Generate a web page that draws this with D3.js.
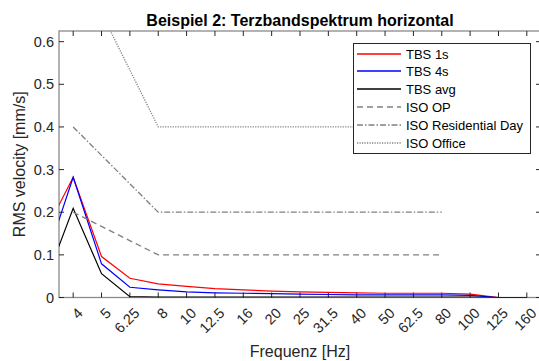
<!DOCTYPE html>
<html>
<head>
<meta charset="utf-8">
<script src="https://cdn.jsdelivr.net/npm/d3@7"></script>
<style>
  body { margin: 0; background: #fff; }
  text { font-family: "Liberation Sans", Arial, sans-serif; fill: #262626; }
</style>
</head>
<body>
<div id="chart"></div>
<script>
// third-octave band centre frequencies (first one sits left of the visible axis)
const freqs = ["3.15", "4", "5", "6.25", "8", "10", "12.5", "16", "20", "25", "31.5", "40", "50", "62.5", "80", "100", "125", "160"];
const tickFreqs = freqs.slice(1);

// measured spectra [mm/s]
const tbs1s = [0.152, 0.282, 0.096, 0.045, 0.032, 0.026, 0.021, 0.018, 0.015, 0.013, 0.012, 0.011, 0.010, 0.010, 0.010, 0.008, 0.000, 0.000];
const tbs4s = [0.082, 0.282, 0.079, 0.024, 0.018, 0.013, 0.011, 0.010, 0.009, 0.008, 0.007, 0.006, 0.006, 0.006, 0.006, 0.005, 0.000, 0.000];
const tbsAvg = [0.033, 0.209, 0.056, 0.002, 0.001, 0.001, 0.001, 0.001, 0.001, 0.001, 0.001, 0.001, 0.001, 0.001, 0.001, 0.001, 0.000, 0.000];

// ISO limit curves (corner points)
const isoFreqs = ["4", "8", "80"];
const isoOP = [0.2, 0.1, 0.1];
const isoResDay = [0.4, 0.2, 0.2];
const isoOffice = [0.8, 0.4, 0.4];

const yTicks = [0, 0.1, 0.2, 0.3, 0.4, 0.5, 0.6];

const W = 539, H = 361;
const pLeft = 59, pRight = 541, pTop = 31, pBottom = 297.5;

const svg = d3.select("#chart").append("svg")
  .attr("width", W)
  .attr("height", H);

const x = d3.scaleLinear().domain([0.5, 17.5]).range([pLeft, pRight]);
const xi = f => x(freqs.indexOf(f));
const y = d3.scaleLinear().domain([0, 0.625]).range([pBottom, pTop]);

svg.append("clipPath").attr("id", "plotClip")
  .append("rect")
  .attr("x", pLeft).attr("y", pTop)
  .attr("width", pRight - pLeft).attr("height", pBottom - pTop);

// axis box
const axisCol = "#8a8a8a";
svg.append("rect")
  .attr("x", pLeft).attr("y", pTop)
  .attr("width", pRight - pLeft).attr("height", pBottom - pTop)
  .attr("fill", "none")
  .attr("stroke", axisCol)
  .attr("stroke-width", 1.3);

// ticks, pointing inward on all four sides
const tickLen = 5;
const tickG = svg.append("g").attr("stroke", "#262626").attr("stroke-width", 1);
tickFreqs.forEach(f => {
  tickG.append("line").attr("x1", xi(f)).attr("x2", xi(f)).attr("y1", pBottom).attr("y2", pBottom - tickLen);
  tickG.append("line").attr("x1", xi(f)).attr("x2", xi(f)).attr("y1", pTop).attr("y2", pTop + tickLen);
});
yTicks.forEach(v => {
  tickG.append("line").attr("x1", pLeft).attr("x2", pLeft + tickLen).attr("y1", y(v)).attr("y2", y(v));
  tickG.append("line").attr("x1", pRight).attr("x2", pRight - tickLen).attr("y1", y(v)).attr("y2", y(v));
});

// tick labels
svg.selectAll("text.ytick")
  .data(yTicks)
  .enter().append("text")
  .attr("class", "ytick")
  .attr("x", pLeft - 5)
  .attr("y", d => y(d))
  .attr("dy", "0.35em")
  .attr("text-anchor", "end")
  .style("font-size", "14.5px")
  .text(d => d3.format("~g")(d));

svg.selectAll("text.xtick")
  .data(tickFreqs)
  .enter().append("text")
  .attr("class", "xtick")
  .attr("transform", d => `translate(${xi(d) + 7},${pBottom + 13}) rotate(-45)`)
  .attr("text-anchor", "end")
  .attr("dominant-baseline", "central")
  .style("font-size", "14.5px")
  .text(d => d);

// axis labels and title
svg.append("text")
  .attr("x", (pLeft + pRight) / 2).attr("y", 357)
  .attr("text-anchor", "middle")
  .style("font-size", "16px")
  .text("Frequenz [Hz]");

svg.append("text")
  .attr("transform", `translate(25,${(pTop + pBottom) / 2}) rotate(-90)`)
  .attr("text-anchor", "middle")
  .style("font-size", "16px")
  .text("RMS velocity [mm/s]");

svg.append("text")
  .attr("x", (pLeft + pRight) / 2).attr("y", 26)
  .attr("text-anchor", "middle")
  .style("font-size", "16px")
  .style("font-weight", "bold")
  .style("fill", "#000")
  .text("Beispiel 2: Terzbandspektrum horizontal");

// series
const series = [
  { name: "TBS 1s", f: freqs, v: tbs1s, color: "#ff0000", dash: null, w: 1.2 },
  { name: "TBS 4s", f: freqs, v: tbs4s, color: "#0000ff", dash: null, w: 1.2 },
  { name: "TBS avg", f: freqs, v: tbsAvg, color: "#000000", dash: null, w: 1.2 },
  { name: "ISO OP", f: isoFreqs, v: isoOP, color: "#808080", dash: "6,4", w: 1.3 },
  { name: "ISO Residential Day", f: isoFreqs, v: isoResDay, color: "#808080", dash: "6,2,1.5,2", w: 1.3 },
  { name: "ISO Office", f: isoFreqs, v: isoOffice, color: "#808080", dash: "1.2,1.3", w: 1.3 }
];

const line = d3.line().x(d => xi(d[0])).y(d => y(d[1]));
const plotG = svg.append("g").attr("clip-path", "url(#plotClip)");

series.forEach(s => {
  plotG.append("path")
    .datum(s.f.map((f, i) => [f, s.v[i]]))
    .attr("d", line)
    .attr("fill", "none")
    .attr("stroke", s.color)
    .attr("stroke-width", s.w)
    .attr("stroke-dasharray", s.dash);
});

// legend
const lg = svg.append("g");
lg.append("rect")
  .attr("x", 353.5).attr("y", 43.5)
  .attr("width", 177).attr("height", 110)
  .attr("fill", "#fff")
  .attr("stroke", "#262626")
  .attr("stroke-width", 1);

series.forEach((s, i) => {
  const ly = Math.round(53.5 + i * 17.9);
  lg.append("line")
    .attr("x1", 357).attr("x2", 401)
    .attr("y1", ly).attr("y2", ly)
    .attr("stroke", s.color)
    .attr("stroke-width", 1.3)
    .attr("stroke-dasharray", s.dash);
  lg.append("text")
    .attr("x", 406).attr("y", ly)
    .attr("dy", "0.35em")
    .style("font-size", "13px")
    .style("fill", "#000")
    .text(s.name);
});
</script>
</body>
</html>
